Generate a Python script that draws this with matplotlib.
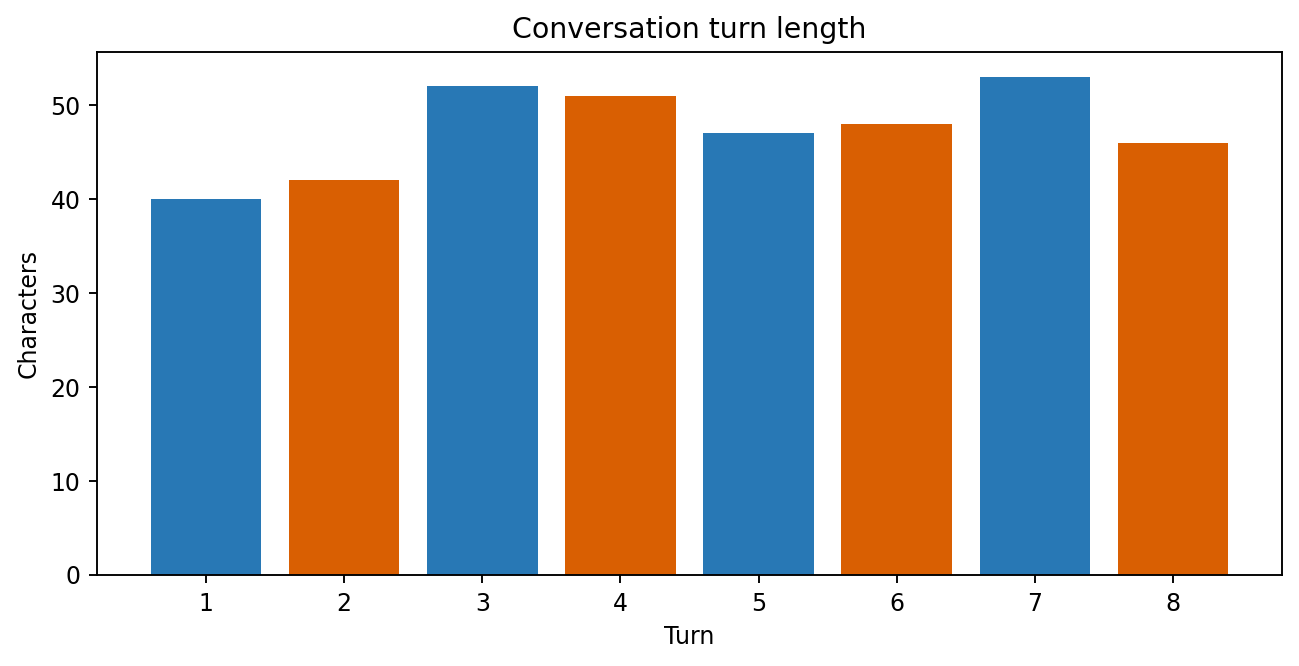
import matplotlib
matplotlib.use("Agg")
import matplotlib.pyplot as plt

turns = [1, 2, 3, 4, 5, 6, 7, 8]
characters = [40, 42, 52, 51, 47, 48, 53, 46]
colors = ["#2878b5", "#d95f02"] * 4

fig, ax = plt.subplots(figsize=(1299 / 170, 666 / 170), dpi=170)
ax.bar(turns, characters, color=colors)
ax.set_title("Conversation turn length")
ax.set_xlabel("Turn")
ax.set_ylabel("Characters")
ax.set_xticks(turns)
fig.subplots_adjust(left=97 / 1299, right=1282 / 1299, top=1 - 52 / 666, bottom=1 - 575 / 666)
fig.savefig("out.png", dpi=170)
